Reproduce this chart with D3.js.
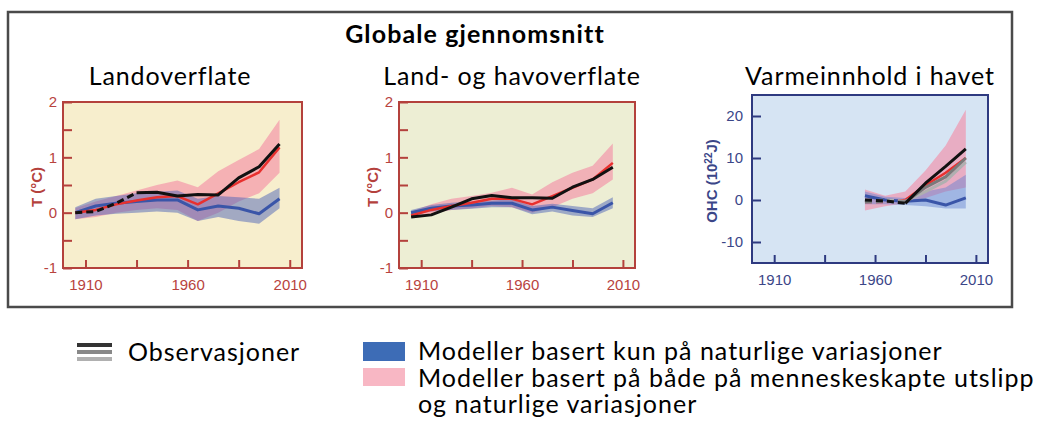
<!DOCTYPE html>
<html>
<head>
<meta charset="utf-8">
<script src="https://cdn.jsdelivr.net/npm/d3@7"></script>
<style>
  body { margin: 0; background: #fff; }
  svg { display: block; }
  .tick text { font-family: "Liberation Sans", Arial, sans-serif; font-size: 15px; }
</style>
</head>
<body>
<script>
var width = 1045;
var height = 422;

// decade mid-points
var years = [1905, 1915, 1925, 1935, 1945, 1955, 1965, 1975, 1985, 1995, 2005];
var yearsOhc = [1955, 1965, 1975, 1985, 1995, 2005];

// Landoverflate
var landObs   = [0.0, 0.02, 0.17, 0.36, 0.37, 0.30, 0.33, 0.32, 0.63, 0.83, 1.24];
var landAll   = [0.0, 0.05, 0.15, 0.22, 0.28, 0.30, 0.15, 0.35, 0.55, 0.73, 1.18];
var landAllLo = [-0.12, -0.08, 0.0, 0.05, 0.08, 0.05, -0.15, 0.0, 0.20, 0.35, 0.72];
var landAllHi = [0.08, 0.20, 0.30, 0.40, 0.50, 0.58, 0.46, 0.75, 0.95, 1.15, 1.68];
var landNat   = [0.0, 0.12, 0.17, 0.20, 0.23, 0.23, 0.05, 0.12, 0.08, -0.02, 0.25];
var landNatLo = [-0.12, -0.05, -0.02, 0.0, 0.02, 0.0, -0.15, -0.08, -0.15, -0.20, 0.08];
var landNatHi = [0.10, 0.25, 0.30, 0.35, 0.38, 0.40, 0.25, 0.30, 0.28, 0.25, 0.45];

// Land- og havoverflate
var globObs   = [-0.08, -0.04, 0.10, 0.25, 0.31, 0.27, 0.27, 0.26, 0.46, 0.60, 0.82];
var globAll   = [-0.05, 0.05, 0.12, 0.18, 0.25, 0.25, 0.15, 0.30, 0.45, 0.60, 0.90];
var globAllLo = [-0.08, -0.02, 0.05, 0.08, 0.12, 0.10, 0.0, 0.10, 0.25, 0.35, 0.60];
var globAllHi = [0.02, 0.15, 0.25, 0.30, 0.36, 0.45, 0.33, 0.55, 0.72, 0.85, 1.25];
var globNat   = [0.0, 0.08, 0.12, 0.14, 0.17, 0.17, 0.05, 0.10, 0.04, -0.02, 0.18];
var globNatLo = [-0.05, 0.02, 0.05, 0.07, 0.10, 0.10, -0.03, 0.02, -0.05, -0.08, 0.08];
var globNatHi = [0.05, 0.14, 0.18, 0.20, 0.22, 0.24, 0.12, 0.16, 0.12, 0.08, 0.28];

// Varmeinnhold i havet (10^22 J)
var ohcObs    = [0.0, -0.2, -0.8, 4.0, 8.0, 12.2];
var ohcObs2   = [-0.5, -0.3, -0.5, 3.0, 5.5, 10.0];
var ohcObs3   = [-0.3, 0.0, -0.3, 2.0, 4.5, 9.0];
var ohcAll    = [-0.5, -0.5, 0.0, 3.5, 6.5, 10.0];
var ohcAllLo  = [-2.5, -1.5, -0.8, 0.5, 2.0, 3.0];
var ohcAllHi  = [2.5, 1.0, 2.0, 7.0, 13.0, 21.5];
var ohcNat    = [1.0, 0.0, -0.3, 0.0, -1.2, 0.5];
var ohcNatLo  = [-1.0, -1.0, -1.2, -1.5, -2.0, -2.0];
var ohcNatHi  = [2.0, 0.8, 0.5, 2.0, 3.0, 6.0];

var xTicks = [1910, 1935, 1960, 1985, 2010];
var xLabels = [1910, 1960, 2010];
var tTicks = [-1, -0.5, 0, 0.5, 1, 1.5, 2];
var ohcTicks = [-10, 0, 10, 20];

var titleText = "Globale gjennomsnitt";
var legendObs = "Observasjoner";
var legendNat = "Modeller basert kun på naturlige variasjoner";
var legendAll = ["Modeller basert på både på menneskeskapte utslipp", "og naturlige variasjoner"];

var svg = d3.select("body").append("svg")
            .attr("width", width)
            .attr("height", height);

var labelFont = "Lato, 'Open Sans', sans-serif";

// outer box
svg.append("rect")
   .attr("x", 8).attr("y", 12)
   .attr("width", 1004).attr("height", 295)
   .attr("fill", "none")
   .attr("stroke", "#4a4a4a")
   .attr("stroke-width", 2.5);

svg.append("text")
   .attr("x", 475).attr("y", 43)
   .attr("text-anchor", "middle")
   .style("font-family", labelFont)
   .style("font-weight", "bold")
   .style("font-size", "25px")
   .style("letter-spacing", "1.1px")
   .text(titleText);

function toRows(xs, mid, lo, hi) {
    return xs.map(function(y, i) {
        return { year: y, v: mid[i], lo: lo ? lo[i] : null, hi: hi ? hi[i] : null };
    });
}

var panels = [
    { title: "Landoverflate", tx: 170, x0: 63, x1: 302, y0: 102, y1: 268,
      domain: [-1, 2], ticks: tTicks, bg: "#f7eecd", frame: "#b4413c", tickColor: "#b8433e",
      yLabel: "T (°C)", yLabelX: 37, yPad: 6, natFill: "#4d64b8", natOpacity: 0.5,
      years: years, obs: [{ v: landObs, color: "#111", dashUntil: 1935 }],
      all: [landAll, landAllLo, landAllHi], nat: [landNat, landNatLo, landNatHi], redDashUntil: null },
    { title: "Land- og havoverflate", tx: 512, x0: 399, x1: 635, y0: 102, y1: 268,
      domain: [-1, 2], ticks: tTicks, bg: "#edeed4", frame: "#b4413c", tickColor: "#b8433e",
      yLabel: "T (°C)", yLabelX: 373, yPad: 6, natFill: "#4d64b8", natOpacity: 0.5,
      years: years, obs: [{ v: globObs, color: "#111", dashUntil: null }],
      all: [globAll, globAllLo, globAllHi], nat: [globNat, globNatLo, globNatHi], redDashUntil: null },
    { title: "Varmeinnhold i havet", tx: 870, x0: 752, x1: 988, y0: 95, y1: 263,
      domain: [-15, 25], ticks: ohcTicks, bg: "#d6e4f3", frame: "#2e3a80", tickColor: "#3b4688",
      yLabel: "OHC", yLabelX: 712, yPad: 9, natFill: "#5f7fd0", natOpacity: 0.45,
      years: yearsOhc,
      obs: [{ v: ohcObs3, color: "#b0b0b0", dashUntil: 1975 },
            { v: ohcObs2, color: "#7a7a7a", dashUntil: 1975 },
            { v: ohcObs, color: "#111", dashUntil: 1975 }],
      all: [ohcAll, ohcAllLo, ohcAllHi], nat: [ohcNat, ohcNatLo, ohcNatHi], redDashUntil: 1975 }
];

panels.forEach(function(p) {
    var g = svg.append("g");
    var xScale = d3.scaleLinear().domain([1899, 2016]).range([p.x0, p.x1]);
    var yScale = d3.scaleLinear().domain(p.domain).range([p.y1, p.y0]);

    svg.append("text")
       .attr("x", p.tx).attr("y", 85)
       .attr("text-anchor", "middle")
       .style("font-family", labelFont)
       .style("font-size", "25px")
       .style("letter-spacing", "0.9px")
       .text(p.title);

    g.append("rect")
     .attr("x", p.x0).attr("y", p.y0)
     .attr("width", p.x1 - p.x0).attr("height", p.y1 - p.y0)
     .attr("fill", p.bg);

    var clipId = "clip" + p.x0;
    g.append("clipPath").attr("id", clipId)
     .append("rect")
     .attr("x", p.x0).attr("y", p.y0)
     .attr("width", p.x1 - p.x0).attr("height", p.y1 - p.y0);
    var plot = g.append("g").attr("clip-path", "url(#" + clipId + ")");

    var area = d3.area()
                 .x(function(d) { return xScale(d.year); })
                 .y0(function(d) { return yScale(d.lo); })
                 .y1(function(d) { return yScale(d.hi); });
    var line = d3.line()
                 .x(function(d) { return xScale(d.year); })
                 .y(function(d) { return yScale(d.v); });

    var allRows = toRows(p.years, p.all[0], p.all[1], p.all[2]);
    var natRows = toRows(p.years, p.nat[0], p.nat[1], p.nat[2]);

    // bands
    plot.append("path").datum(allRows)
        .attr("d", area)
        .attr("fill", "#f48aa4")
        .attr("opacity", 0.62);
    plot.append("path").datum(natRows)
        .attr("d", area)
        .attr("fill", p.natFill)
        .attr("opacity", p.natOpacity);

    // draws a line, dashed up to a given year and solid afterwards
    var drawSplit = function(rows, color, w, dashUntil) {
        var solid = dashUntil == null ? rows : rows.filter(function(d) { return d.year >= dashUntil; });
        if (dashUntil != null) {
            var dashed = rows.filter(function(d) { return d.year <= dashUntil; });
            plot.append("path").datum(dashed)
                .attr("d", line)
                .attr("fill", "none")
                .attr("stroke", color)
                .attr("stroke-width", w)
                .attr("stroke-dasharray", "7,4");
        }
        plot.append("path").datum(solid)
            .attr("d", line)
            .attr("fill", "none")
            .attr("stroke", color)
            .attr("stroke-width", w)
            .attr("stroke-linejoin", "round");
    };

    drawSplit(natRows, "#3a55a8", 3, null);
    drawSplit(allRows, "#e8302e", 2.5, p.redDashUntil);
    p.obs.forEach(function(o) {
        drawSplit(toRows(p.years, o.v), o.color, 3, o.dashUntil);
    });

    // axes
    var xAxis = d3.axisBottom(xScale)
                  .tickValues(xTicks)
                  .tickSizeInner(-8).tickSizeOuter(0)
                  .tickPadding(11)
                  .tickFormat(function(d) { return xLabels.indexOf(d) >= 0 ? d : ""; });
    var xg = g.append("g")
              .attr("transform", "translate(0," + p.y1 + ")")
              .call(xAxis);
    var yAxis = d3.axisLeft(yScale)
                  .tickValues(p.ticks)
                  .tickSizeInner(-9).tickSizeOuter(0)
                  .tickPadding(p.yPad)
                  .tickFormat(function(d) { return Number.isInteger(d) ? d : ""; });
    var yg = g.append("g")
              .attr("transform", "translate(" + p.x0 + ",0)")
              .call(yAxis);
    [xg, yg].forEach(function(ax) {
        ax.select(".domain").remove();
        ax.selectAll("line").attr("stroke", p.frame).attr("stroke-width", 2);
        ax.selectAll("text").attr("fill", p.tickColor);
    });

    g.append("rect")
     .attr("x", p.x0).attr("y", p.y0)
     .attr("width", p.x1 - p.x0).attr("height", p.y1 - p.y0)
     .attr("fill", "none")
     .attr("stroke", p.frame)
     .attr("stroke-width", 2);

    var yMid = (p.y0 + p.y1) / 2 + 2;
    var lab = g.append("text")
               .attr("transform", "translate(" + p.yLabelX + "," + yMid + ") rotate(-90)")
               .attr("text-anchor", "middle")
               .attr("dy", "0.35em")
               .attr("fill", p.frame)
               .style("font-family", "'Liberation Sans', Arial, sans-serif")
               .style("font-weight", "bold")
               .style("font-size", "15px");
    if (p.yLabel === "OHC") {
        lab.attr("fill", "#3b4688").style("font-size", "15px");
        lab.append("tspan").text("OHC (10");
        lab.append("tspan").attr("dy", "-5").style("font-size", "10px").text("22");
        lab.append("tspan").attr("dy", "5").text("J)");
    } else {
        lab.text(p.yLabel);
    }
});

// legend
var obsColors = ["#333", "#888", "#b0b0b0"];
var legObs = svg.append("g");
legObs.selectAll("line")
      .data(obsColors)
      .enter()
      .append("line")
      .attr("x1", 77).attr("x2", 112)
      .attr("y1", function(d, i) { return 345 + i * 7; })
      .attr("y2", function(d, i) { return 345 + i * 7; })
      .attr("stroke", function(d) { return d; })
      .attr("stroke-width", 4);

var legendText = function(x, y) {
    return svg.append("text")
              .attr("x", x).attr("y", y)
              .style("font-family", labelFont)
              .style("font-size", "25px")
              .style("letter-spacing", "1px");
};
legendText(128, 361).text(legendObs);

svg.append("rect")
   .attr("x", 363).attr("y", 342)
   .attr("width", 42).attr("height", 19)
   .attr("fill", "#3d6cb6");
svg.append("rect")
   .attr("x", 363).attr("y", 368)
   .attr("width", 42).attr("height", 18)
   .attr("fill", "#f8b7c4");

legendText(418, 360).text(legendNat);
var leg2 = legendText(418, 387);
leg2.selectAll("tspan")
    .data(legendAll)
    .enter()
    .append("tspan")
    .attr("x", 418)
    .attr("dy", function(d, i) { return i === 0 ? 0 : 26; })
    .text(function(d) { return d; });
</script>
</body>
</html>
